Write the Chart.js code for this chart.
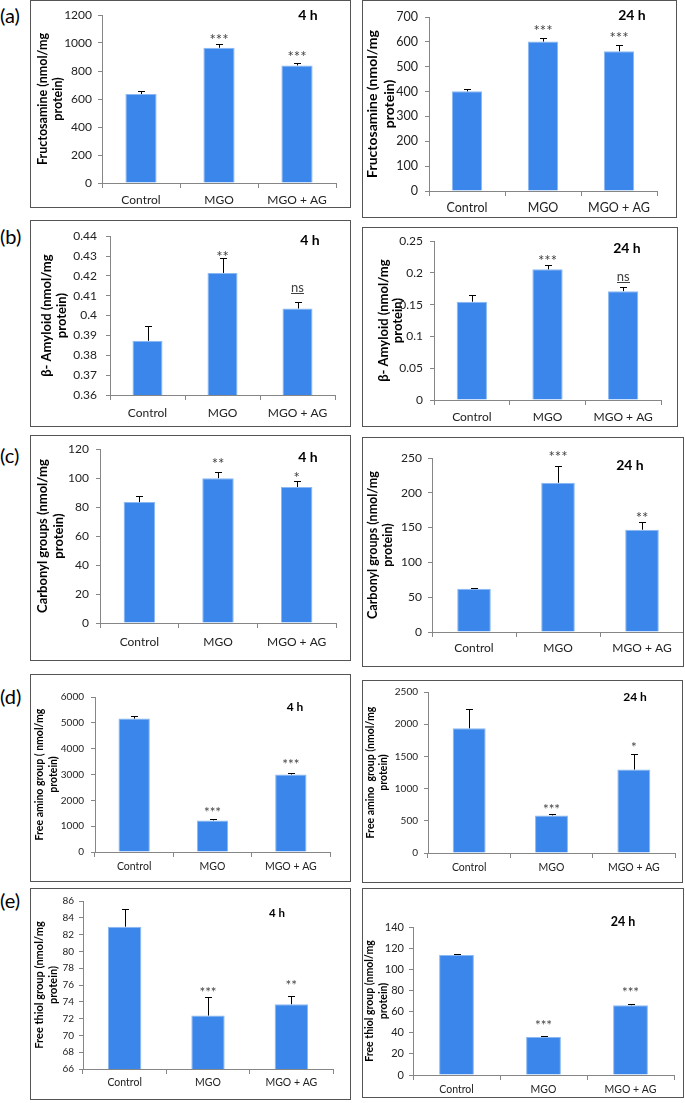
<!DOCTYPE html>
<html><head><meta charset="utf-8">
<script src="https://cdn.jsdelivr.net/npm/chart.js@4.4.1/dist/chart.umd.min.js"></script>
<style>
html,body{margin:0;padding:0;background:#fff;}
body{width:685px;height:1103px;position:relative;overflow:hidden;font-family:Lato,sans-serif;}
.box{position:absolute;border:1px solid #555;box-sizing:border-box;pointer-events:none;}
canvas{position:absolute;}
.plab{position:absolute;left:0;font-size:20px;line-height:22px;color:#000;}
</style></head><body>
<div class="plab" style="top:4px">(a)</div>
<div class="plab" style="top:225px">(b)</div>
<div class="plab" style="top:444px">(c)</div>
<div class="plab" style="top:685px">(d)</div>
<div class="plab" style="top:889px">(e)</div>
<script>
// ---------- data ----------
const categories = ['Control', 'MGO', 'MGO + AG'];

const fructosamine4h = [635, 966, 840];
const fructosamine4hErr = [22, 29, 14];
const fructosamine4hSig = ['', '***', '***'];
const fructosamine4hTicks = [0, 200, 400, 600, 800, 1000, 1200];

const fructosamine24h = [401, 601, 562];
const fructosamine24hErr = [10, 13, 24];
const fructosamine24hSig = ['', '***', '***'];
const fructosamine24hTicks = [0, 100, 200, 300, 400, 500, 600, 700];

const amyloid4h = [0.3873, 0.4215, 0.4036];
const amyloid4hErr = [0.0075, 0.0076, 0.0035];
const amyloid4hSig = ['', '**', 'ns'];
const amyloid4hTicks = [0.36, 0.37, 0.38, 0.39, 0.40, 0.41, 0.42, 0.43, 0.44];

const amyloid24h = [0.1547, 0.2057, 0.1714];
const amyloid24hErr = [0.0103, 0.0068, 0.0062];
const amyloid24hSig = ['', '***', 'ns'];
const amyloid24hTicks = [0, 0.05, 0.1, 0.15, 0.2, 0.25];

const carbonyl4h = [83.5, 100, 93.9];
const carbonyl4hErr = [3.9, 4.5, 4.0];
const carbonyl4hSig = ['', '**', '*'];
const carbonyl4hTicks = [0, 20, 40, 60, 80, 100, 120];

const carbonyl24h = [62, 214.4, 147];
const carbonyl24hErr = [1.5, 23.6, 10.7];
const carbonyl24hSig = ['', '***', '**'];
const carbonyl24hTicks = [0, 50, 100, 150, 200, 250];

const amino4h = [5163, 1223, 3000];
const amino4hErr = [103, 65, 77];
const amino4hSig = ['', '***', '***'];
const amino4hTicks = [0, 1000, 2000, 3000, 4000, 5000, 6000];

const amino24h = [1936, 584, 1296];
const amino24hErr = [303, 16, 246];
const amino24hSig = ['', '***', '*'];
const amino24hTicks = [0, 500, 1000, 1500, 2000, 2500];

const thiol4h = [82.94, 72.36, 73.71];
const thiol4hErr = [2.11, 2.19, 0.99];
const thiol4hSig = ['', '***', '**'];
const thiol4hTicks = [66, 68, 70, 72, 74, 76, 78, 80, 82, 84, 86];

const thiol24h = [113.5, 36, 66];
const thiol24hErr = [1.2, 1.3, 1.0];
const thiol24hSig = ['', '***', '***'];
const thiol24hTicks = [0, 20, 40, 60, 80, 100, 120, 140];

const titleFructosamine = ['Fructosamine (nmol/mg', 'protein)'];
const titleAmyloid = ['β- Amyloid (nmol/mg', 'protein)'];
const titleCarbonyl = ['Carbonyl groups (nmol/mg', 'protein)'];
const titleAmino4h = ['Free amino group ( nmol/mg', 'protein)'];
const titleAmino24h = ['Free amino  group (nmol/mg', 'protein)'];
const titleThiol = ['Free thiol group (nmol/mg', 'protein)'];

// ---------- panels ----------
const panels = [
 {v:fructosamine4h, e:fructosamine4hErr, s:fructosamine4hSig, t:fructosamine4hTicks, title:titleFructosamine, hour:'4 h',
  L:{box:[30,0,321,208], axisX:102, top:15, bottom:183, right:336, t1:43, tsp:15, tf:12.5, tickF:12, yPad:6, catF:12, catY:200, hourF:14, hx:308, hy:15, sigF:15, gaps:[0,7,10]}},
 {v:fructosamine24h, e:fructosamine24hErr, s:fructosamine24hSig, t:fructosamine24hTicks, title:titleFructosamine, hour:'24 h',
  L:{box:[362,0,315,218], axisX:429, top:17, bottom:191, right:657, t1:372, tsp:17, tf:14, tickF:12.5, yPad:7, catF:12.5, catY:208, hourF:14, hx:632, hy:15, sigF:15, gaps:[0,11,11]}},
 {v:amyloid4h, e:amyloid4hErr, s:amyloid4hSig, t:amyloid4hTicks, title:titleAmyloid, hour:'4 h',
  L:{box:[30,220,321,207], axisX:110, top:228, bottom:395, right:335, t1:47, tsp:15, tf:13, tickF:12, yPad:9, catF:12, catY:413, hourF:14, hx:310, hy:240, sigF:15, gaps:[0,4,13]}},
 {v:amyloid24h, e:amyloid24hErr, s:amyloid24hSig, t:amyloid24hTicks, title:titleAmyloid, hour:'24 h',
  L:{box:[362,227,316,200], axisX:434, top:240, bottom:400, right:661, t1:384, tsp:14, tf:13, tickF:12, yPad:7, catF:12, catY:417, hourF:14, hx:627, hy:248, sigF:15, gaps:[0,7,10]}},
 {v:carbonyl4h, e:carbonyl4hErr, s:carbonyl4hSig, t:carbonyl4hTicks, title:titleCarbonyl, hour:'4 h',
  L:{box:[30,435,321,226], axisX:100, top:446, bottom:623, right:336, t1:43, tsp:16, tf:13, tickF:12, yPad:7, catF:12, catY:642, hourF:14, hx:308, hy:457, sigF:15, gaps:[0,11,6]}},
 {v:carbonyl24h, e:carbonyl24hErr, s:carbonyl24hSig, t:carbonyl24hTicks, title:titleCarbonyl, hour:'24 h',
  L:{box:[362,437,322,230], axisX:432, top:458, bottom:632, right:684, t1:373, tsp:15, tf:12.5, tickF:12, yPad:6, catF:12, catY:648, hourF:14, hx:630, hy:465, sigF:15, gaps:[0,13,7]}},
 {v:amino4h, e:amino4hErr, s:amino4hSig, t:amino4hTicks, title:titleAmino4h, hour:'4 h',
  L:{box:[30,674,321,208], axisX:95, top:697, bottom:852, right:330, t1:40, tsp:14, tf:10.5, tickF:10, yPad:7, catF:10.5, catY:867, hourF:12, hx:295, hy:707, sigF:13.5, gaps:[0,9,10.5]}},
 {v:amino24h, e:amino24hErr, s:amino24hSig, t:amino24hTicks, title:titleAmino24h, hour:'24 h',
  L:{box:[362,680,321,203], axisX:428, top:691, bottom:853, right:675, t1:371, tsp:13, tf:10.5, tickF:10, yPad:6, catF:10.5, catY:868, hourF:12, hx:635, hy:697, sigF:13.5, gaps:[0,8,9]}},
 {v:thiol4h, e:thiol4hErr, s:thiol4hSig, t:thiol4hTicks, title:titleThiol, hour:'4 h',
  L:{box:[30,888,321,212], axisX:83, top:901, bottom:1069, right:333, t1:39, tsp:14, tf:11, tickF:10, yPad:5, catF:10.5, catY:1083, hourF:11.5, hx:277, hy:913, sigF:13.5, gaps:[0,8,13]}},
 {v:thiol24h, e:thiol24hErr, s:thiol24hSig, t:thiol24hTicks, title:titleThiol, hour:'24 h',
  L:{box:[362,888,322,210], axisX:413, top:927, bottom:1075, right:674, t1:370, tsp:14, tf:10.5, tickF:11, yPad:5, catF:10.5, catY:1090, hourF:12.5, hx:623, hy:922, sigF:13.5, gaps:[0,13,15]}}
];

const FONT = 'Lato, "Open Sans", sans-serif';
const AXIS = '#868686';

panels.forEach((p, idx) => {
  const L = p.L;
  const [bx, by, bw, bh] = L.box;
  const cv = document.createElement('canvas');
  cv.width = bw; cv.height = bh;
  cv.style.left = bx + 'px'; cv.style.top = by + 'px';
  cv.style.width = bw + 'px'; cv.style.height = bh + 'px';
  document.body.appendChild(cv);
  const bd = document.createElement('div');
  bd.className = 'box';
  bd.style.left = bx + 'px'; bd.style.top = by + 'px';
  bd.style.width = bw + 'px'; bd.style.height = bh + 'px';
  document.body.appendChild(bd);

  const xTL = 5, yTL = 4;
  const xPad = Math.max(0, L.catY - L.bottom - xTL - L.catF * 0.62);

  const overlay = {
    id: 'overlay' + idx,
    afterDatasetsDraw(chart) {
      const ctx = chart.ctx;
      const ys = chart.scales.y;
      const meta = chart.getDatasetMeta(0);
      ctx.save();
      meta.data.forEach((bar, i) => {
        const x = bar.x;
        const yv = ys.getPixelForValue(p.v[i]);
        const ye = ys.getPixelForValue(p.v[i] + p.e[i]);
        ctx.strokeStyle = '#000';
        ctx.lineWidth = 1;
        ctx.beginPath();
        ctx.moveTo(Math.round(x) + 0.5, yv);
        ctx.lineTo(Math.round(x) + 0.5, Math.round(ye) + 0.5);
        ctx.moveTo(Math.round(x) - 3, Math.round(ye) + 0.5);
        ctx.lineTo(Math.round(x) + 4, Math.round(ye) + 0.5);
        ctx.stroke();
        const s = p.s[i];
        if (s) {
          ctx.fillStyle = '#404040';
          ctx.textAlign = 'center';
          ctx.textBaseline = 'alphabetic';
          const cy = ye - L.gaps[i];
          if (s === 'ns') {
            const f = L.sigF - 2;
            ctx.font = f + 'px ' + FONT;
            const base = cy + f * 0.26;
            ctx.fillText(s, x, base);
            const w = ctx.measureText(s).width;
            ctx.fillRect(Math.round(x - w / 2), Math.round(base + 1), Math.round(w), 1);
          } else {
            ctx.font = L.sigF + 'px ' + FONT;
            ctx.fillText(s, x, cy + L.sigF * 0.55);
          }
        }
      });
      ctx.fillStyle = '#000';
      ctx.font = 'bold ' + L.hourF + 'px ' + FONT;
      ctx.textAlign = 'center';
      ctx.textBaseline = 'middle';
      ctx.fillText(p.hour, L.hx - bx, L.hy - by);
      ctx.restore();
    }
  };

  new Chart(cv, {
    type: 'bar',
    data: {
      labels: categories,
      datasets: [{
        data: p.v,
        backgroundColor: '#3b86ea',
        borderColor: '#8ab8f2',
        borderWidth: 1,
        barPercentage: 0.4,
        categoryPercentage: 1
      }]
    },
    options: {
      responsive: false,
      animation: false,
      devicePixelRatio: 1,
      layout: { padding: { top: L.top - by, right: bx + bw - L.right, left: 0, bottom: 0 } },
      plugins: { legend: { display: false }, tooltip: { enabled: false } },
      scales: {
        x: {
          offset: true,
          grid: { offset: true, drawOnChartArea: false, drawTicks: true, tickLength: xTL, color: AXIS },
          border: { display: true, color: AXIS },
          ticks: { font: { family: FONT, size: L.catF }, color: '#222', padding: xPad, maxRotation: 0, autoSkip: false },
          afterFit: s => { s.height = by + bh - L.bottom; }
        },
        y: {
          min: p.t[0], max: p.t[p.t.length - 1],
          afterBuildTicks: s => { s.ticks = p.t.map(v => ({ value: v })); },
          grid: { drawOnChartArea: false, drawTicks: true, tickLength: yTL, color: AXIS },
          border: { display: true, color: AXIS },
          ticks: {
            font: { family: FONT, size: L.tickF }, color: '#222', padding: L.yPad,
            callback: v => String(parseFloat(Number(v).toFixed(4)))
          },
          title: {
            display: true, text: p.title, color: '#000',
            font: { family: FONT, size: L.tf, weight: 'bold', lineHeight: L.tsp + 'px' },
            padding: { top: L.t1 - bx - L.tsp / 2, bottom: 0 }
          },
          afterFit: s => { s.width = L.axisX - bx; }
        }
      }
    },
    plugins: [overlay]
  });
});
</script>
</body></html>
